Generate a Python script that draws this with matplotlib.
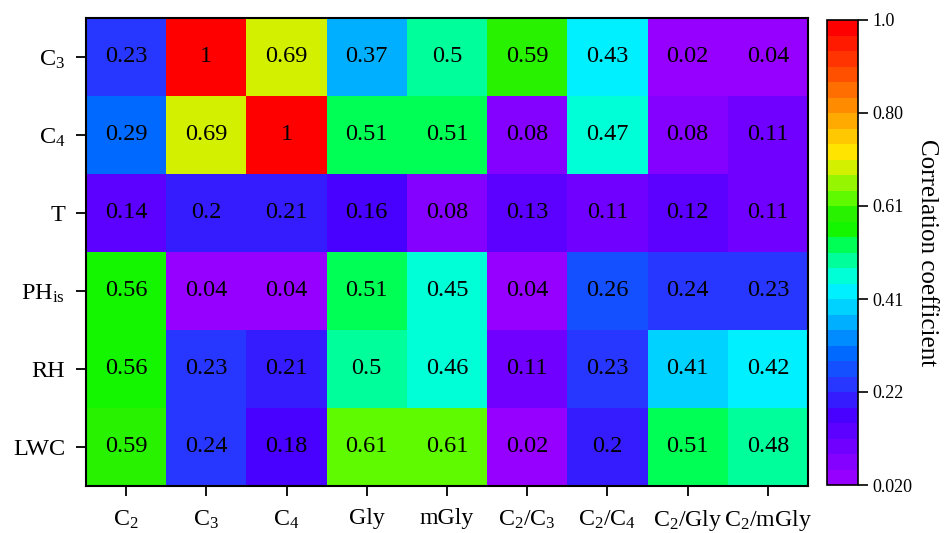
import numpy as np
import matplotlib
matplotlib.use('Agg')
import matplotlib.pyplot as plt
from matplotlib.colors import ListedColormap, BoundaryNorm

plt.rcParams['font.family'] = ['Liberation Serif', 'DejaVu Serif']
plt.rcParams['mathtext.fontset'] = 'custom'
plt.rcParams['mathtext.rm'] = 'Liberation Serif'
plt.rcParams['mathtext.it'] = 'Liberation Serif:italic'

# data
col_labels = ['C$_2$', 'C$_3$', 'C$_4$', 'Gly', 'mGly',
              'C$_2$/C$_3$', 'C$_2$/C$_4$', 'C$_2$/Gly', 'C$_2$/mGly']
row_labels = ['C$_3$', 'C$_4$', 'T', r'PH$_\mathrm{is}$', 'RH', 'LWC']

r_C3 = [0.23, 1, 0.69, 0.37, 0.5, 0.59, 0.43, 0.02, 0.04]
r_C4 = [0.29, 0.69, 1, 0.51, 0.51, 0.08, 0.47, 0.08, 0.11]
r_T = [0.14, 0.2, 0.21, 0.16, 0.08, 0.13, 0.11, 0.12, 0.11]
r_PH = [0.56, 0.04, 0.04, 0.51, 0.45, 0.04, 0.26, 0.24, 0.23]
r_RH = [0.56, 0.23, 0.21, 0.5, 0.46, 0.11, 0.23, 0.41, 0.42]
r_LWC = [0.59, 0.24, 0.18, 0.61, 0.61, 0.02, 0.2, 0.51, 0.48]

cb_ticks = [0.02, 0.216, 0.412, 0.608, 0.804, 1.0]
cb_ticklabels = ['0.020', '0.22', '0.41', '0.61', '0.80', '1.0']

data = np.array([r_C3, r_C4, r_T, r_PH, r_RH, r_LWC])

# 30-step rainbow like the original palette (low -> high)
band_rgb = [
    (150, 0, 255), (132, 0, 255), (112, 0, 255), (92, 0, 255), (72, 0, 255),
    (52, 28, 255), (40, 55, 255), (20, 80, 255), (0, 105, 255), (0, 140, 255),
    (0, 175, 255), (0, 210, 255), (0, 240, 255), (0, 255, 215), (0, 255, 155),
    (0, 255, 85), (20, 245, 0), (40, 242, 0), (95, 250, 0), (150, 245, 0),
    (210, 240, 0), (255, 228, 0), (255, 200, 0), (255, 170, 0), (255, 140, 0),
    (255, 110, 0), (255, 80, 0), (255, 52, 0), (255, 26, 0), (255, 0, 0)]
cmap = ListedColormap([(r / 255, g / 255, b / 255) for r, g, b in band_rgb])
bounds = np.linspace(0.02, 1.0, len(band_rgb) + 1)
norm = BoundaryNorm(bounds, cmap.N, clip=True)

fig = plt.figure(figsize=(9.45, 5.33), dpi=100)
ax = fig.add_axes([86 / 945, 1 - 486 / 533, (808 - 86) / 945, (486 - 18) / 533])
cax = fig.add_axes([827 / 945, 1 - 485 / 533, 31 / 945, (485 - 20) / 533])

nr, nc = data.shape
ax.pcolormesh(np.arange(nc + 1), np.arange(nr + 1), data, cmap=cmap, norm=norm)
ax.set_xlim(0, nc)
ax.set_ylim(nr, 0)
for i in range(nr):
    for j in range(nc):
        ax.text(j + 0.5, i + 0.5, '%g' % data[i, j], ha='center', va='center',
                fontsize=17.5)

ax.set_xticks(np.arange(nc) + 0.5)
ax.set_xticklabels(col_labels, fontsize=17.2)
ax.set_yticks(np.arange(nr) + 0.5)
ax.set_yticklabels(row_labels, fontsize=17.5)
ax.tick_params(direction='out', length=7, width=1.3)
ax.tick_params(axis='x', pad=9)
ax.tick_params(axis='y', pad=8)
for s in ax.spines.values():
    s.set_linewidth(1.5)

sm = matplotlib.cm.ScalarMappable(norm=norm, cmap=cmap)
cb = fig.colorbar(sm, cax=cax, boundaries=bounds, ticks=cb_ticks)
cb.ax.minorticks_off()
cb.ax.set_yticklabels(cb_ticklabels, fontsize=13)
cb.ax.tick_params(length=7, width=1.2, direction='out')
cb.outline.set_linewidth(1.2)
cb.set_label('Correlation coefficient', fontsize=18, rotation=270, labelpad=18)

fig.savefig('out.png', dpi=100)
